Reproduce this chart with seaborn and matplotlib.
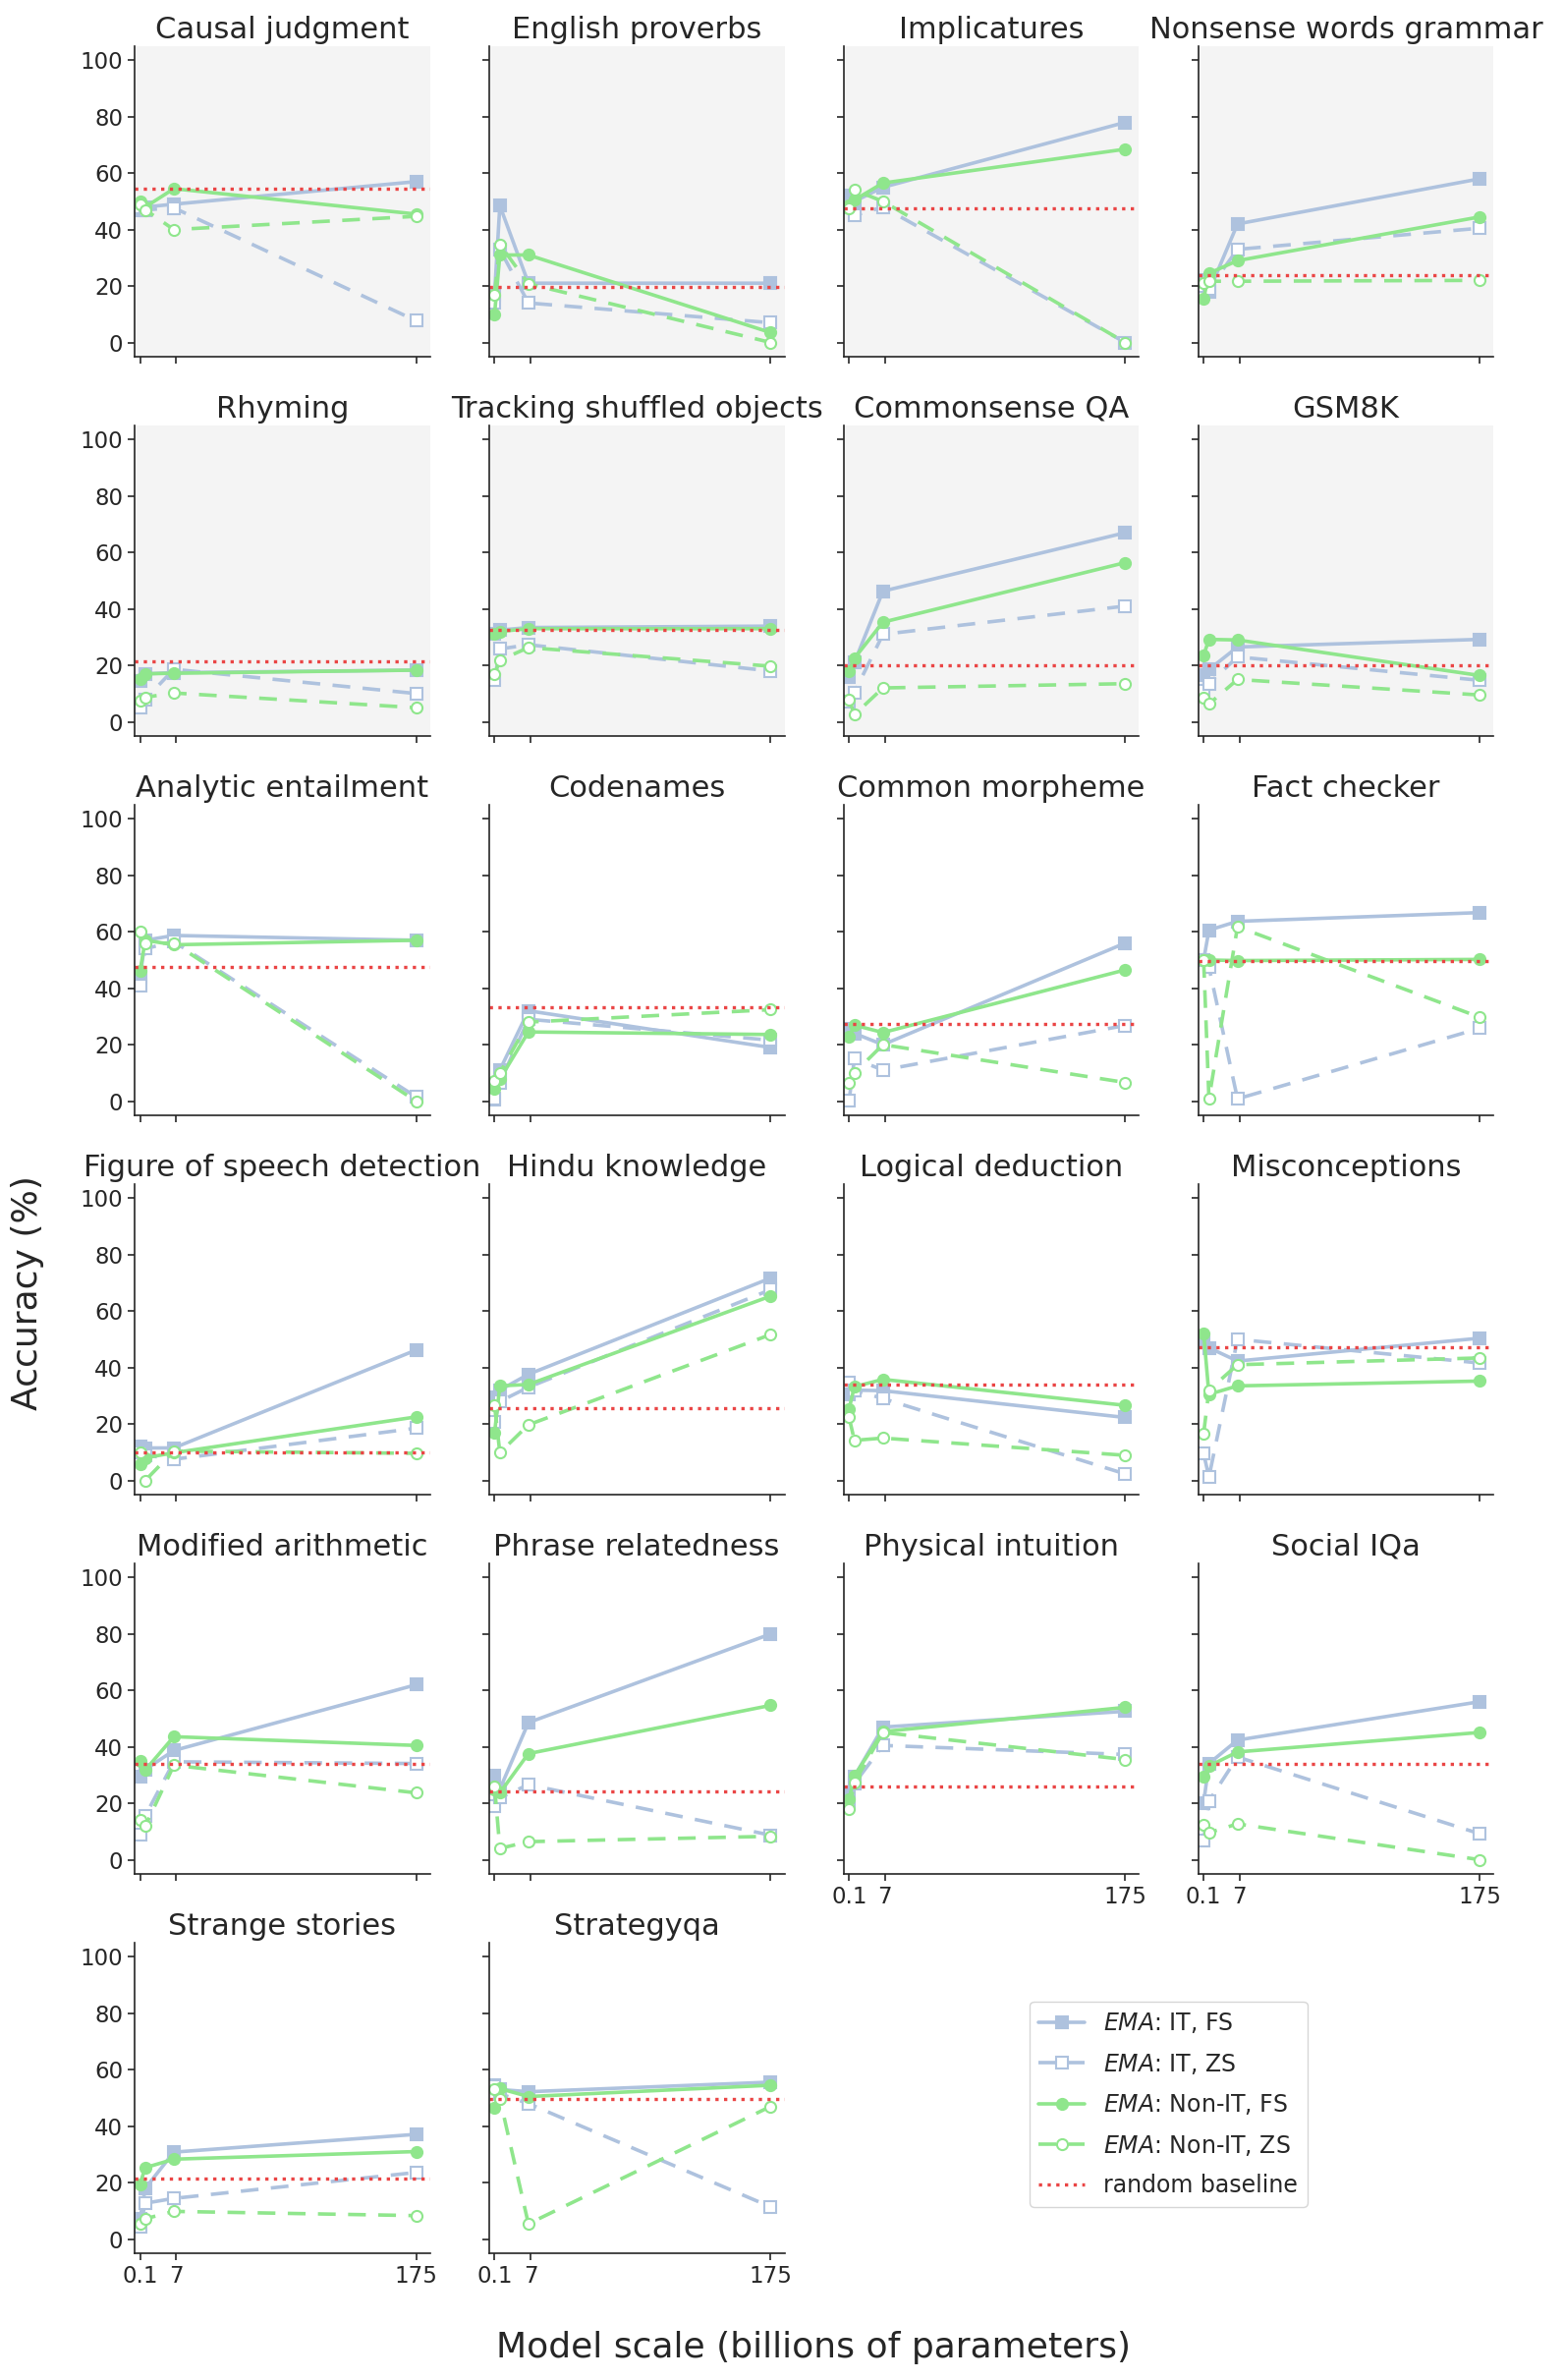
import numpy as np
import pandas as pd
import matplotlib
matplotlib.use("Agg")
import matplotlib.pyplot as plt
from matplotlib.lines import Line2D
import seaborn as sns

sns.set_style("ticks")
plt.rcParams["font.family"] = ["DejaVu Sans"]

# model scale (billions of parameters)
scales = [0.1, 0.55, 6.4, 175]

tasks = ["Causal judgment", "English proverbs", "Implicatures", "Nonsense words grammar",
         "Rhyming", "Tracking shuffled objects", "Commonsense QA", "GSM8K",
         "Analytic entailment", "Codenames", "Common morpheme", "Fact checker",
         "Figure of speech detection", "Hindu knowledge", "Logical deduction", "Misconceptions",
         "Modified arithmetic", "Phrase relatedness", "Physical intuition", "Social IQa",
         "Strange stories", "Strategyqa"]

it_fs = [[47, 48, 49, 57], [17, 48.5, 21, 21], [52, 50, 55, 78], [22, 18, 42, 58],
         [14.5, 17, 17.4, 18.3], [31.3, 32.5, 33.4, 33.9], [16, 21, 46.3, 67], [16.4, 18.5, 26.5, 29.2],
         [44, 57, 58.7, 57], [0.5, 11, 32, 19], [25.7, 24, 20, 56], [50, 60.6, 63.7, 66.8],
         [12, 11.5, 11.5, 46.2], [29.5, 32, 37.6, 71.7], [30.6, 32, 31.8, 22.3], [50, 47, 42.3, 50.4],
         [29.5, 32, 38.7, 62], [29.7, 25, 48.6, 80], [23.7, 29.5, 47, 52.6], [20.2, 34.1, 42.4, 56],
         [7, 18, 30.8, 37.1], [54.4, 53, 52.2, 55.6]]

it_zs = [[48, 47, 47.7, 7.7], [14, 33, 14, 7], [48, 45, 48, 0], [20, 19, 33, 40.5],
         [4.9, 8, 18.6, 10], [14.8, 25.8, 27.3, 18], [7, 10.4, 31, 41], [11, 13.5, 23, 14.7],
         [41, 54, 56.5, 1.5], [1, 6.6, 29, 21.6], [0.2, 15, 11, 26.8], [50, 47.5, 0.8, 25.8],
         [10, 9, 7.5, 18.5], [20.8, 28, 33, 67.6], [34.7, 32, 29, 2.3], [9.5, 1.2, 50, 41.6],
         [8.9, 15.6, 34.7, 34.1], [19.1, 22, 26.6, 8.7], [20, 27, 40.5, 37.3], [6.9, 20.8, 36.4, 9.2],
         [4.3, 12.7, 14.4, 23.6], [54, 51.5, 48, 11.4]]

nonit_fs = [[50, 48, 54.5, 45.5], [10, 31, 31, 3.5], [48.5, 50.5, 56.5, 68.5], [15.5, 24.5, 29, 44.5],
            [15, 17, 17.2, 18.3], [31, 32, 33, 33], [17.8, 22.5, 35.3, 56.4], [23.6, 29.2, 29, 16.4],
            [46, 57, 55.4, 57], [4.3, 7.8, 24.5, 23.6], [22.8, 26.9, 24.3, 46.5], [50, 50, 49.8, 50.2],
            [5.8, 8, 9.8, 22.5], [16.8, 33.5, 34, 65.3], [25.4, 33.2, 35.8, 26.6], [52, 30.5, 33.5, 35.2],
            [35, 31.8, 43.6, 40.5], [24.9, 23.7, 37.6, 54.7], [21.4, 29.7, 45.4, 54], [29.5, 33.2, 38.2, 45.1],
            [19.5, 25.3, 28.3, 31], [46.4, 53.3, 50.5, 54.5]]

nonit_zs = [[49, 47, 40, 44.7], [17, 34.7, 20.8, 0], [47.5, 54, 50, 0], [21, 21.7, 21.7, 22],
            [7.5, 8.7, 10.2, 5], [16.8, 21.8, 26.3, 19.7], [8, 2.5, 12, 13.5], [8.6, 6.3, 15, 9.5],
            [60, 56, 56, 0], [7.2, 10, 28, 32.4], [6.3, 10, 20, 6.6], [50, 0.8, 61.8, 29.7],
            [9.8, 0, 10.4, 9.6], [26.6, 9.8, 19.7, 51.7], [22.3, 14.2, 15, 8.9], [16.7, 32, 41, 43.4],
            [14.2, 11.9, 33.5, 23.7], [26, 4, 6.4, 8.3], [17.9, 27.4, 45.1, 35.5], [12.4, 9.6, 12.7, 0],
            [5.4, 7.2, 9.8, 8.3], [53, 49.8, 5.4, 47]]

baseline = [54.6, 19.7, 47.7, 23.7, 21.3, 32.5, 20.1, 20.1, 47.7, 33.4, 27.4, 49.5,
            9.8, 25.7, 33.8, 47.3, 34.1, 24.3, 26, 33.9, 21.6, 49.5]

BLUE = "#aec2de"
GREEN = "#8fe68c"
RED = "#ea4545"
DASH = (0, (5, 3.5))
LW = 2.6
MS = 8

series = [
    (it_fs, BLUE, "s", "-", True, r"$\mathit{EMA}$: IT, FS"),
    (it_zs, BLUE, "s", DASH, False, r"$\mathit{EMA}$: IT, ZS"),
    (nonit_fs, GREEN, "o", "-", True, r"$\mathit{EMA}$: Non-IT, FS"),
    (nonit_zs, GREEN, "o", DASH, False, r"$\mathit{EMA}$: Non-IT, ZS"),
]

# compressed x axis: small models spread out, 175B at the far right
P = 0.613
fwd = lambda x: np.sign(x) * np.abs(x) ** P
inv = lambda x: np.sign(x) * np.abs(x) ** (1 / P)

fig, axes = plt.subplots(6, 4, figsize=(15.92, 24.22), dpi=100, sharex=True, sharey=True)
fig.subplots_adjust(left=0.086, right=0.955, top=0.9806, bottom=0.0533, wspace=0.2, hspace=0.222)
axes = axes.flatten()

for i, task in enumerate(tasks):
    ax = axes[i]
    ax.set_xscale("function", functions=(fwd, inv))
    for values, color, marker, ls, filled, label in series:
        df = pd.DataFrame({"scale": scales, "acc": values[i]})
        sns.lineplot(data=df, x="scale", y="acc", ax=ax, color=color, marker=marker,
                     linestyle=ls, linewidth=LW, markersize=MS, markeredgewidth=1.5,
                     markeredgecolor=color, markerfacecolor=color if filled else "white",
                     errorbar=None, sort=False)
    ax.axhline(baseline[i], color=RED, linestyle=":", linewidth=2.4)
    ax.set_title(task, fontsize=22)
    ax.set_xlabel("")
    ax.set_ylabel("")
    if i < 8:
        ax.set_facecolor("#f4f4f4")
    sns.despine(ax=ax)

for ax in axes[len(tasks):]:
    ax.remove()

axes[0].set_xlim(-0.087, 189.4)
axes[0].set_ylim(-5, 105)
axes[0].set_xticks([0.1, 7, 175])
axes[0].set_xticklabels(["0.1", "7", "175"])
axes[0].set_yticks([0, 20, 40, 60, 80, 100])
for ax in axes[:len(tasks)]:
    ax.tick_params(labelsize=16.5, width=1.2, length=5)
    for side in ("left", "bottom"):
        ax.spines[side].set_linewidth(1.2)
for ax in axes[18:20]:
    ax.xaxis.set_tick_params(labelbottom=True)

handles = [Line2D([], [], color=c, marker=m, linestyle=ls, linewidth=LW, markersize=MS,
                  markeredgewidth=1.5, markeredgecolor=c, markerfacecolor=c if f else "white")
           for _, c, m, ls, f, _ in series]
handles.append(Line2D([], [], color=RED, linestyle=":", linewidth=2.4))
labels = [s[5] for s in series] + ["random baseline"]
fig.legend(handles, labels, loc="center", bbox_to_anchor=(0.747, 0.116), fontsize=17,
           labelspacing=0.7, frameon=True, fancybox=True, edgecolor="#cccccc")

fig.text(0.0176, 0.457, "Accuracy (%)", rotation=90, fontsize=26, ha="center", va="center")
fig.text(0.52, 0.0136, "Model scale (billions of parameters)", fontsize=26, ha="center", va="center")

plt.savefig("out.png", dpi=100)
plt.close()
